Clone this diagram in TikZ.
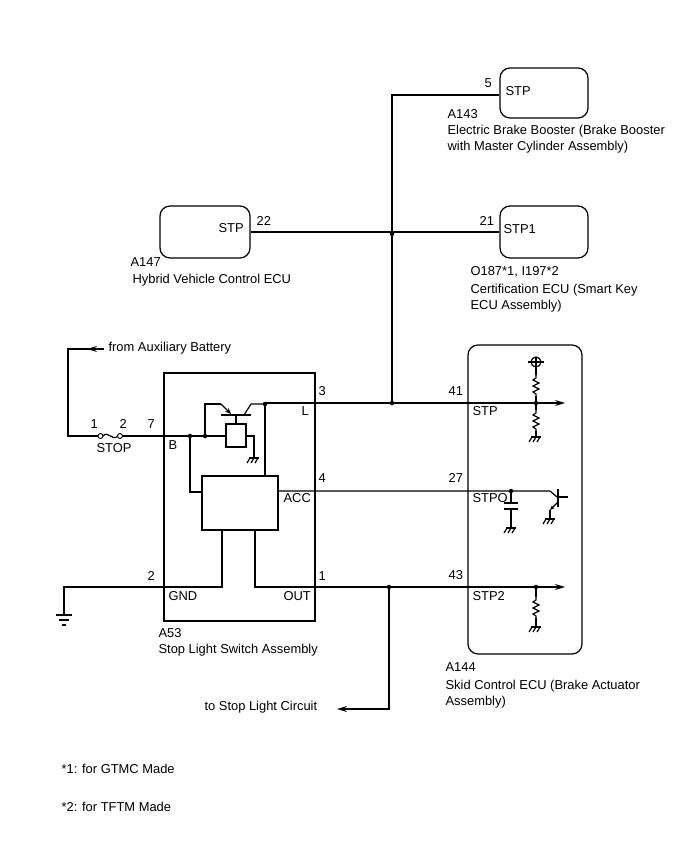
\documentclass[tikz,border=0pt]{standalone}
\usepackage{fontspec}
\setmainfont{Liberation Sans}
\usetikzlibrary{arrows.meta}
\begin{document}
\begin{tikzpicture}[x=1pt,y=-1pt,line width=1.2pt,
  lbl/.style={inner sep=0pt,anchor=west,font=\fontsize{12.9}{14}\selectfont},
  dot/.style={circle,fill,inner sep=0pt,minimum size=4.5pt},
  box/.style={draw,rounded corners=10pt},
  arr/.style={-{Stealth[length=10pt,width=6pt]}},
  chas/.pic={\draw (-5,0)--(5,0); \foreach \i in {-4,0,4}{\draw (\i,0)--(\i-3,5);}},
  res/.pic={\draw (0,0)--(0,3)--(-3,5)--(3,8)--(-3,11)--(3,14)--(-3,17)--(0,19)--(0,21);}]
\useasboundingbox (0,0) rectangle (688,852);
% boxes
\node[box,minimum width=88pt,minimum height=50pt] (a143) at (544,93) {};
\node[box,minimum width=90pt,minimum height=52pt] (a147) at (205,232) {};
\node[box,minimum width=88pt,minimum height=52pt] (o187) at (544,232) {};
\node[box,minimum width=114pt,minimum height=309pt] (a144) at (525,499.5) {};
\node[draw,minimum width=151pt,minimum height=248pt] (a53) at (239.5,497) {};
\node[draw,minimum width=76pt,minimum height=54pt] (ic) at (240,503) {};
% labels
\node[lbl] at (505,91) {STP}; \node[lbl] at (484,83) {5};
\node[lbl] at (447,114) {A143};
\node[lbl] at (447,131) {Electric Brake Booster (Brake Booster};
\node[lbl] at (447,147) {with Master Cylinder Assembly)};
\node[lbl] at (218,228) {STP}; \node[lbl] at (256,221) {22};
\node[lbl] at (130,262) {A147};
\node[lbl] at (132,280) {Hybrid Vehicle Control ECU};
\node[lbl] at (503,229) {STP1}; \node[lbl] at (479,221) {21};
\node[lbl] at (470,272) {O187*1, I197*2};
\node[lbl] at (470,290) {Certification ECU (Smart Key};
\node[lbl] at (470,306) {ECU Assembly)};
\node[lbl] at (108,348) {from Auxiliary Battery};
\node[lbl] at (90,424) {1}; \node[lbl] at (119,424) {2}; \node[lbl] at (147,424) {7};
\node[lbl] at (96,448) {STOP};
\node[lbl] at (168,445) {B}; \node[lbl] at (301,411) {L}; \node[lbl] at (318,391) {3};
\node[lbl] at (283,498) {ACC}; \node[lbl] at (318,478) {4};
\node[lbl] at (147,576) {2}; \node[lbl] at (168,596) {GND};
\node[lbl] at (283,596) {OUT}; \node[lbl] at (318,576) {1};
\node[lbl] at (158,633) {A53};
\node[lbl] at (158,650) {Stop Light Switch Assembly};
\node[lbl] at (448,391) {41}; \node[lbl] at (472,411) {STP};
\node[lbl] at (448,478) {27}; \node[lbl] at (472,498) {STPO};
\node[lbl] at (448,575) {43}; \node[lbl] at (472,596) {STP2};
\node[lbl] at (445,667) {A144};
\node[lbl] at (445,686) {Skid Control ECU (Brake Actuator};
\node[lbl] at (445,702) {Assembly)};
\node[lbl] at (204,707) {to Stop Light Circuit};
\node[lbl] at (61,769) {*1: for GTMC Made};
\node[lbl] at (61,807) {*2: for TFTM Made};
% top wiring
\coordinate (j1) at (392,234); \coordinate (j2) at (392,403);
\draw (a143.west|-0,95) -- (392,95) -- (j2);
\draw (a147.east) -- (o187.west);
\node[dot] at (j1) {}; \node[dot] at (j2) {};
% L line
\draw[arr] (315,403) -- (565,403);
\draw (265,403) -- (315,403);
% fuse and battery
\coordinate (bat) at (104,349);
\draw (98,436) -- (68,436) -- (68,349) -- (bat);
\draw[arr] (bat) -- (87,349);
\draw[line width=0.9pt] (100.5,436) circle (2.5);
\draw[line width=0.9pt] (120,436) circle (2.5);
\draw (103,436) .. controls (108,430) and (113,442) .. (117.5,436);
\draw (122.5,436) -- (226,436);
\node[dot] at (190,436) {}; \node[dot] at (205,436) {};
% relay / transistor
\draw (205,436) -- (205,404) -- (221,404);
\draw[-{Stealth[length=6pt,width=5pt]}] (221,404) -- (231,414);
\draw (221,415) -- (251,415);
\draw (244,415) -- (251,404) -- (265,404);
\node[dot] at (265,404) {};
\draw (236,415) -- (236,424);
\draw (226,424) rectangle (246,447);
\draw (246,436) -- (254,436) -- (254,458);
\pic at (254,458) {chas};
\draw (265,404) -- (265,476);
\draw (190,436) -- (190,492) -- (202,492);
% ACC
\draw (278,491) -- (550,491) -- (557,497);
% GND and OUT
\draw (222,530) -- (222,587) -- (64,587) -- (64,615);
\draw (56,615)--(72,615); \draw (59,620)--(69,620); \draw (62,625)--(66,625);
\draw[arr] (255,530) -- (255,587) -- (565,587);
\coordinate (j3) at (389,587); \node[dot] at (j3) {};
\draw[arr] (j3) -- (389,709) -- (337,709);
% ECU STP
\draw (536,357) -- (536,375);
\draw (536,362) circle (5); \draw (528,362) -- (544,362);
\pic at (536,375) {res};
\draw (536,396) -- (536,403);
\node[dot] at (536,403) {};
\draw (536,403) -- (536,410); \pic at (536,410) {res};
\draw (536,431) -- (536,437); \pic at (536,437) {chas};
% ECU STPO
\node[dot] at (511,491) {};
\draw (511,491) -- (511,503); \draw (504,503)--(518,503); \draw (504,509)--(518,509);
\draw (511,509) -- (511,528); \pic at (511,528) {chas};
\draw (558,489) -- (558,507);
\draw (558,497) -- (568,497);
\draw[-{Stealth[length=5pt,width=4pt]}] (558,502) -- (550,510);
\draw (550,510) -- (550,519); \pic at (550,519) {chas};
% ECU STP2
\node[dot] at (536,587) {};
\draw (536,587) -- (536,597); \pic at (536,597) {res};
\draw (536,618) -- (536,627); \pic at (536,627) {chas};
\end{tikzpicture}
\end{document}
